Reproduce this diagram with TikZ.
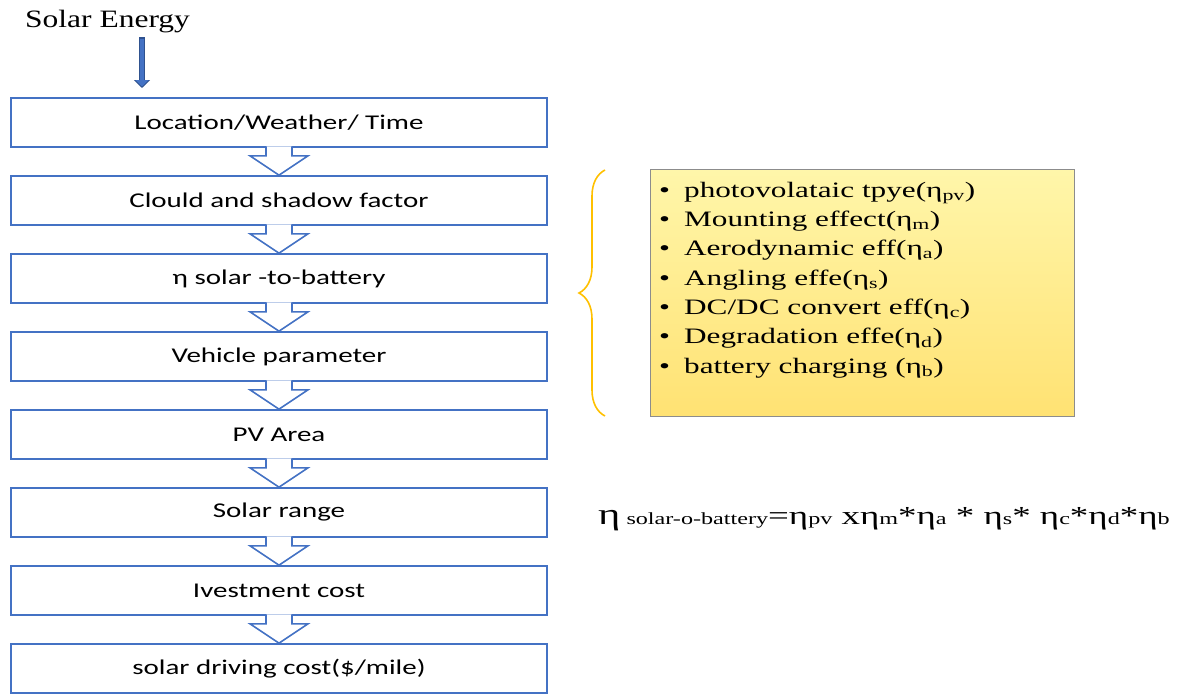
\documentclass[tikz,border=0pt]{standalone}
\usepackage{fontspec}
\setmainfont{Liberation Serif}
\newfontfamily\boxfont[FakeStretch=1.38]{Carlito}
\newfontfamily\wideserif[FakeStretch=1.42]{Liberation Serif}
\newfontfamily\titleserif[FakeStretch=1.26]{Liberation Serif}
\usetikzlibrary{positioning,calc,arrows.meta,decorations.pathreplacing}

\definecolor{flowblue}{RGB}{68,114,196}
\definecolor{darkblue}{RGB}{47,82,143}
\definecolor{bracegold}{RGB}{255,192,0}
\definecolor{noteTop}{RGB}{255,246,170}
\definecolor{noteBot}{RGB}{255,226,115}

\tikzset{
  stepbox/.style={draw=flowblue,line width=1.6pt,fill=white,minimum width=536pt,minimum height=49pt,
    inner sep=0pt,font=\boxfont\fontsize{21}{24}\selectfont},
  hollow/.style={draw=flowblue,line width=1.6pt,fill=white,line join=miter},
  notebox/.style={draw=black!45,line width=1pt,top color=noteTop,bottom color=noteBot,
    minimum width=424pt,minimum height=247pt,inner sep=0pt}
}

\begin{document}
\begin{tikzpicture}[x=1pt,y=-1pt]
        \useasboundingbox (0,0) rectangle (1184,694);
        % flow chart
        \foreach \t [count=\i] in {Location/Weather/ Time,Clould and shadow factor,η solar -to-battery,
            Vehicle parameter,PV Area,Solar range,Ivestment cost,solar driving cost(\$/mile)}
            \node[stepbox] (s\i) at (279,{122.5+78*(\i-1)}) {\t};
        \foreach \i [evaluate=\i as \j using int(\i+1)] in {1,...,7}
            \draw[hollow] ($(s\i.south)+(-13,-1.5)$) -- ++(0,9.5) -- ++(-16,0) -- (s\j.north)
                -- ($(s\i.south)+(29,8)$) -- ++(-16,0) -- ++(0,-9.5);
        % input
        \node[font=\titleserif\fontsize{25}{28}\selectfont,anchor=base west,inner sep=0pt] (sun) at (25,27) {Solar Energy};
        \coordinate (sunend) at (142,88);
        \draw[-{Triangle[width=16pt,length=8pt]},line width=6pt,draw=darkblue] (142,37) -- (sunend);
        \draw[-{Triangle[width=13pt,length=6.5pt]},line width=4pt,draw=flowblue] (142,38.5) -- ($(sunend)+(0,-1.5)$);
        % efficiency factors
        \node[notebox] (note) at (862.5,292.5) {};
        \node[anchor=north west,inner sep=0pt,align=left,font=\wideserif\fontsize{22}{29.3}\selectfont]
            (items) at ($(note.north west)+(9,8)$) {%
            \begin{tabular}{@{}l@{\hspace{14pt}}l@{}}
            • & photovolataic tpye(η\textsubscript{pv})\\
            • & Mounting effect(η\textsubscript{m})\\
            • & Aerodynamic eff(η\textsubscript{a})\\
            • & Angling effe(η\textsubscript{s})\\
            • & DC/DC convert eff(η\textsubscript{c})\\
            • & Degradation effe(η\textsubscript{d})\\
            • & battery charging (η\textsubscript{b})
            \end{tabular}};
        \coordinate (bracetop) at (605,170);
        \coordinate (bracebot) at (605,416);
        \draw[bracegold,line width=1.6pt,decorate,decoration={brace,amplitude=26pt}] (bracebot) -- (bracetop);
        % product formula
        \node[anchor=base west,inner sep=0pt,font=\wideserif\fontsize{26}{28}\selectfont] (formula) at (598,524)
            {{\fontsize{30}{30}\selectfont η}{\fontsize{17}{18}\selectfont\ solar-o-battery}=η{\fontsize{17}{18}\selectfont pv}
            xη{\fontsize{17}{18}\selectfont m}*η{\fontsize{17}{18}\selectfont a} * η{\fontsize{17}{18}\selectfont s}*
            η{\fontsize{17}{18}\selectfont c}*η{\fontsize{17}{18}\selectfont d}*η{\fontsize{17}{18}\selectfont b}};
\end{tikzpicture}
\end{document}
